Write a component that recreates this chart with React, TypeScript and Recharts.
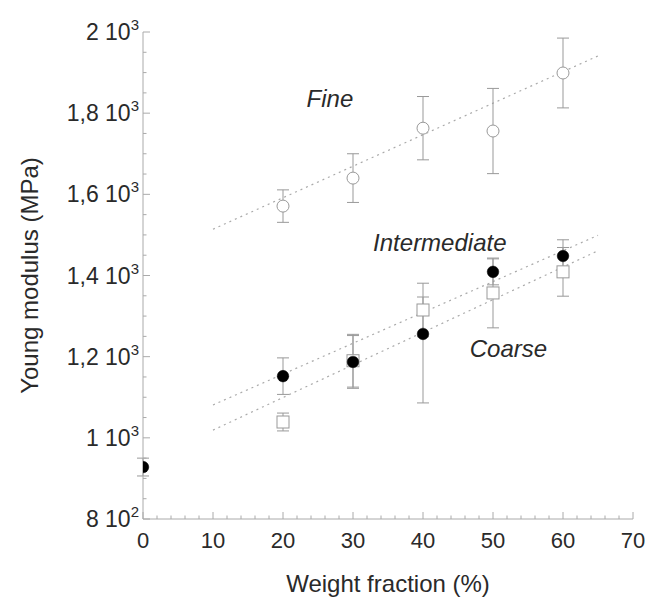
import React from 'react';
import { ScatterChart, Scatter, XAxis, YAxis, ErrorBar, ReferenceLine, ReferenceDot } from 'recharts';

// ---- data ----
const fineX = [20, 30, 40, 50, 60];
const fineY = [1571, 1640, 1763, 1756, 1899];
const fineErr = [40, 60, 78, 105, 86];

const interX = [0, 20, 30, 40, 50, 60];
const interY = [928, 1152, 1187, 1256, 1409, 1448];
const interErr: (number | number[])[] = [22, 45, 65, [170, 91], 32, 40];

const coarseX = [20, 30, 40, 50, 60];
const coarseY = [1039, 1190, 1315, 1357, 1409];
const coarseErr = [22, 65, 66, 86, 60];

const fineTrendX = [10, 65];
const fineTrendY = [1514, 1941];
const interTrendX = [10, 65];
const interTrendY = [1081, 1499];
const coarseTrendX = [10, 65];
const coarseTrendY = [1019, 1461];

const xTicks = [0, 2, 4, 6, 8, 10, 12, 14, 16, 18, 20, 22, 24, 26, 28, 30, 32, 34, 36, 38, 40, 42, 44, 46, 48, 50, 52, 54, 56, 58, 60, 62, 64, 66, 68, 70];
const xMajorLabels = ['0', '10', '20', '30', '40', '50', '60', '70'];
const yTicks = [800, 850, 900, 950, 1000, 1050, 1100, 1150, 1200, 1250, 1300, 1350, 1400, 1450, 1500, 1550, 1600, 1650, 1700, 1750, 1800, 1850, 1900, 1950, 2000];
const yMajorValues = [800, 1000, 1200, 1400, 1600, 1800, 2000];
const yMantissa = ['8', '1', '1,2', '1,4', '1,6', '1,8', '2'];
const yExponent = ['2', '3', '3', '3', '3', '3', '3'];

const annotText = ['Fine', 'Intermediate', 'Coarse'];
const annotX = [26.7, 42.4, 52.2];
const annotY = [1837, 1480, 1221];

const xTitle = 'Weight fraction (%)';
const yTitle = 'Young modulus (MPa)';

// ---- styles ----
const FONT = '"Liberation Sans", Arial, sans-serif';
const AXIS = '#aaaaaa';
const TEXT = '#2a2a2a';
const ERR = '#999999';
const OPEN = '#999999';
const TREND = '#aaaaaa';

const fineData = fineX.map((x, i) => ({ x, y: fineY[i], err: fineErr[i] }));
const interData = interX.map((x, i) => ({ x, y: interY[i], err: interErr[i] }));
const coarseData = coarseX.map((x, i) => ({ x, y: coarseY[i], err: coarseErr[i] }));

const isXMajor = (v: number) => v % 10 === 0;
const isYMajor = (v: number) => v % 200 === 0;

const XTickBottom = (p: any) => {
  const v = p.payload.value;
  const major = isXMajor(v);
  const idx = xTicks.filter(isXMajor).indexOf(v);
  return (
    <g>
      <line x1={p.x} y1={p.y} x2={p.x} y2={p.y - (major ? 7 : 3.5)} stroke={AXIS} strokeWidth={1} />
      {major && (
        <text x={p.x} y={p.y + 29} textAnchor="middle" fontSize={22} fontFamily={FONT} fill={TEXT}>
          {xMajorLabels[idx]}
        </text>
      )}
    </g>
  );
};

const XTickTop = (p: any) => {
  const v = p.payload.value;
  const major = isXMajor(v);
  return <line x1={p.x} y1={p.y} x2={p.x} y2={p.y + (major ? 7 : 3.5)} stroke={AXIS} strokeWidth={1} />;
};

const YTickLeft = (p: any) => {
  const v = p.payload.value;
  const major = isYMajor(v);
  const idx = yMajorValues.indexOf(v);
  return (
    <g>
      <line x1={p.x} y1={p.y} x2={p.x + (major ? 7 : 3.5)} y2={p.y} stroke={AXIS} strokeWidth={1} />
      {major && idx >= 0 && (
        <text x={p.x - 4} y={p.y + 8} textAnchor="end" fontSize={23} fontFamily={FONT} fill={TEXT}>
          <tspan>{yMantissa[idx] + ' 10'}</tspan>
          <tspan dy={-10} fontSize={15}>{yExponent[idx]}</tspan>
        </text>
      )}
    </g>
  );
};

const YTickRight = (p: any) => {
  const v = p.payload.value;
  const major = isYMajor(v);
  return <line x1={p.x} y1={p.y} x2={p.x - (major ? 7 : 3.5)} y2={p.y} stroke={AXIS} strokeWidth={1} />;
};

const OpenCircle = (p: any) => <circle cx={p.cx} cy={p.cy} r={6} fill="#ffffff" stroke={OPEN} strokeWidth={1} />;
const FilledCircle = (p: any) => <circle cx={p.cx} cy={p.cy} r={5.8} fill="#000000" stroke="#000000" strokeWidth={0.5} />;
const OpenSquare = (p: any) => (
  <rect x={p.cx - 6} y={p.cy - 6} width={12} height={12} fill="#ffffff" stroke={OPEN} strokeWidth={1} />
);

const annotContent = (text: string) => (props: any) => {
  const vb = props.viewBox || {};
  const cx = (vb.x ?? 0) + (vb.width ?? 0) / 2;
  const cy = (vb.y ?? 0) + (vb.height ?? 0) / 2;
  return (
    <text x={cx} y={cy} dy="0.35em" textAnchor="middle" fontSize={24} fontStyle="italic" fontFamily={FONT} fill={TEXT}>
      {text}
    </text>
  );
};

const XTitle = (props: any) => {
  const vb = props.viewBox || {};
  const cx = vb.x + vb.width / 2;
  return (
    <text x={cx} y={vb.y + 73} textAnchor="middle" fontSize={24} fontFamily={FONT} fill={TEXT}>
      {xTitle}
    </text>
  );
};

const YTitle = (props: any) => {
  const vb = props.viewBox || {};
  const cy = vb.y + vb.height / 2;
  const cx = vb.x + 30;
  return (
    <text x={cx} y={cy} dy="0.35em" textAnchor="middle" transform={`rotate(-90 ${cx} ${cy})`} fontSize={24} fontFamily={FONT} fill={TEXT}>
      {yTitle}
    </text>
  );
};

const trendLines = [
  { xs: fineTrendX, ys: fineTrendY },
  { xs: interTrendX, ys: interTrendY },
  { xs: coarseTrendX, ys: coarseTrendY },
];

export default function App() {
  return (
    <div style={{ position: 'absolute', left: 0, top: 0, background: '#ffffff' }}>
      <ScatterChart width={647} height={604} margin={{ top: 32, right: 14, bottom: 25, left: 0 }} style={{ fontFamily: FONT }}>
        <XAxis
          xAxisId="b"
          type="number"
          dataKey="x"
          domain={[0, 70]}
          ticks={xTicks}
          interval={0}
          orientation="bottom"
          height={60}
          tickSize={0}
          tickMargin={0}
          tickLine={false}
          axisLine={{ stroke: AXIS, strokeWidth: 1 }}
          tick={<XTickBottom />}
          allowDataOverflow
          label={{ content: XTitle }}
        />
        <XAxis
          xAxisId="t"
          type="number"
          dataKey="x"
          domain={[0, 70]}
          ticks={xTicks}
          interval={0}
          orientation="top"
          height={0}
          tickSize={0}
          tickMargin={0}
          tickLine={false}
          axisLine={{ stroke: AXIS, strokeWidth: 1 }}
          tick={<XTickTop />}
          allowDataOverflow
        />
        <YAxis
          yAxisId="l"
          type="number"
          dataKey="y"
          domain={[800, 2000]}
          ticks={yTicks}
          interval={0}
          orientation="left"
          width={143}
          tickSize={0}
          tickMargin={0}
          tickLine={false}
          axisLine={{ stroke: AXIS, strokeWidth: 1 }}
          tick={<YTickLeft />}
          allowDataOverflow
          label={{ content: YTitle }}
        />
        <YAxis
          yAxisId="r"
          type="number"
          dataKey="y"
          domain={[800, 2000]}
          ticks={yTicks}
          interval={0}
          orientation="right"
          width={0}
          tickSize={0}
          tickMargin={0}
          tickLine={false}
          axisLine={{ stroke: AXIS, strokeWidth: 1 }}
          tick={<YTickRight />}
          allowDataOverflow
        />

        {trendLines.map((t, i) => (
          <ReferenceLine
            key={'trend' + i}
            xAxisId="b"
            yAxisId="l"
            segment={[
              { x: t.xs[0], y: t.ys[0] },
              { x: t.xs[1], y: t.ys[1] },
            ]}
            stroke={TREND}
            strokeWidth={1.2}
            strokeDasharray="2 4"
            ifOverflow="visible"
          />
        ))}

        <Scatter name="Fine" data={fineData} xAxisId="b" yAxisId="l" shape={<OpenCircle />} isAnimationActive={false}>
          <ErrorBar dataKey="err" direction="y" width={6} stroke={ERR} strokeWidth={1} />
        </Scatter>
        <Scatter name="Coarse" data={coarseData} xAxisId="b" yAxisId="l" shape={<OpenSquare />} isAnimationActive={false}>
          <ErrorBar dataKey="err" direction="y" width={6} stroke={ERR} strokeWidth={1} />
        </Scatter>
        <Scatter name="Intermediate" data={interData} xAxisId="b" yAxisId="l" shape={<FilledCircle />} isAnimationActive={false}>
          <ErrorBar dataKey="err" direction="y" width={6} stroke={ERR} strokeWidth={1} />
        </Scatter>

        {annotText.map((t, i) => (
          <ReferenceDot
            key={'annot' + i}
            xAxisId="b"
            yAxisId="l"
            x={annotX[i]}
            y={annotY[i]}
            r={0}
            fill="none"
            stroke="none"
            ifOverflow="visible"
            label={{ content: annotContent(t) }}
          />
        ))}
      </ScatterChart>
    </div>
  );
}
